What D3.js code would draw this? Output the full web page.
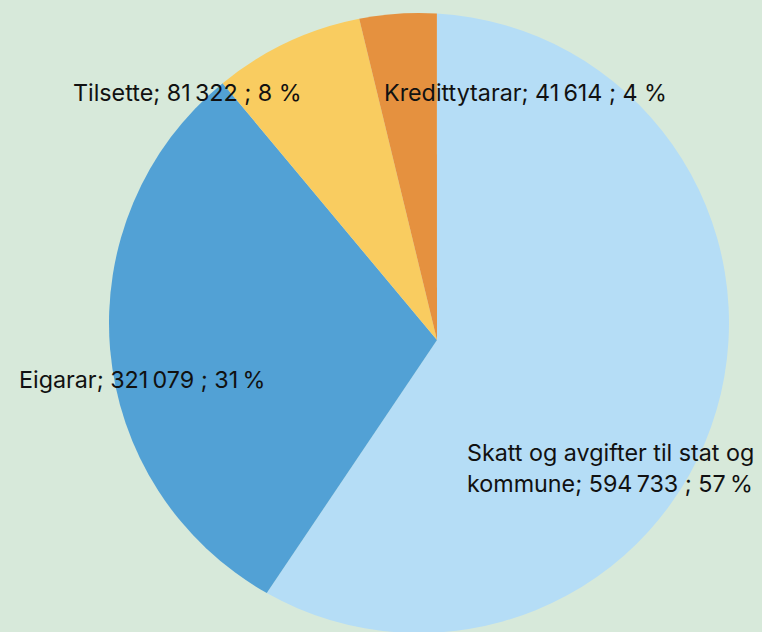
<!DOCTYPE html>
<html><head><meta charset="utf-8">
<script src="https://cdn.jsdelivr.net/npm/d3@7"></script>
<style>html,body{margin:0;padding:0;background:#d7e9da;}svg{display:block;}</style>
</head><body>
<svg id="c" width="762" height="632"></svg>
<script>
const categories = ["Skatt og avgifter til stat og kommune", "Eigarar", "Tilsette", "Kredittytarar"];
const values = [594733, 321079, 81322, 41614];
const percents = [57, 31, 8, 4];
const colors = ["#b5ddf6", "#52a1d5", "#f9cc60", "#e5913f"];

const W = 762, H = 632;
const svg = d3.select("#c");
svg.append("rect").attr("width", W).attr("height", H).attr("fill", "#d7e9da");

const C = {x: 419, y: 323}, R = 310;   // rim circle
const A = {x: 437, y: 340};            // where slices meet
const rot = 3.3 * Math.PI / 180;

const pie = d3.pie().sort(null).startAngle(rot).endAngle(rot + 2 * Math.PI);
const arcs = pie(values);

function slicePath(d) {
  const p = d3.path();
  const a0 = d.startAngle - Math.PI / 2, a1 = d.endAngle - Math.PI / 2;
  p.moveTo(A.x, A.y);
  p.lineTo(C.x + R * Math.cos(a0), C.y + R * Math.sin(a0));
  p.arc(C.x, C.y, R, a0, a1);
  p.closePath();
  return p.toString();
}

svg.append("g").selectAll("path").data(arcs).join("path")
  .attr("d", slicePath)
  .attr("fill", (d, i) => colors[i]);

const fmt = v => {
  const s = String(v);
  return s.slice(0, s.length - 3) + "\u2009" + s.slice(-3);
};

const labelLines = [
  ["Skatt og avgifter til stat og", "kommune; " + fmt(values[0]) + " ; " + percents[0] + "\u2009%"],
  ["Eigarar; " + fmt(values[1]) + " ; " + percents[1] + "\u2009%"],
  ["Tilsette; " + fmt(values[2]) + " ; " + percents[2] + " %"],
  ["Kredittytarar; " + fmt(values[3]) + " ; " + percents[3] + " %"]
];
const labelPos = [[467, 461], [19, 388], [73, 101], [384, 101]];

const lg = svg.append("g")
  .attr("font-family", "Inter, 'Liberation Sans', sans-serif")
  .attr("font-size", 23.3)
  .attr("fill", "#111");
labelLines.forEach((lines, i) => {
  const t = lg.append("text").attr("x", labelPos[i][0]).attr("y", labelPos[i][1]);
  lines.forEach((ln, j) => {
    t.append("tspan").attr("x", labelPos[i][0]).attr("dy", j === 0 ? 0 : 30.5).text(ln);
  });
});
</script>
</body></html>
